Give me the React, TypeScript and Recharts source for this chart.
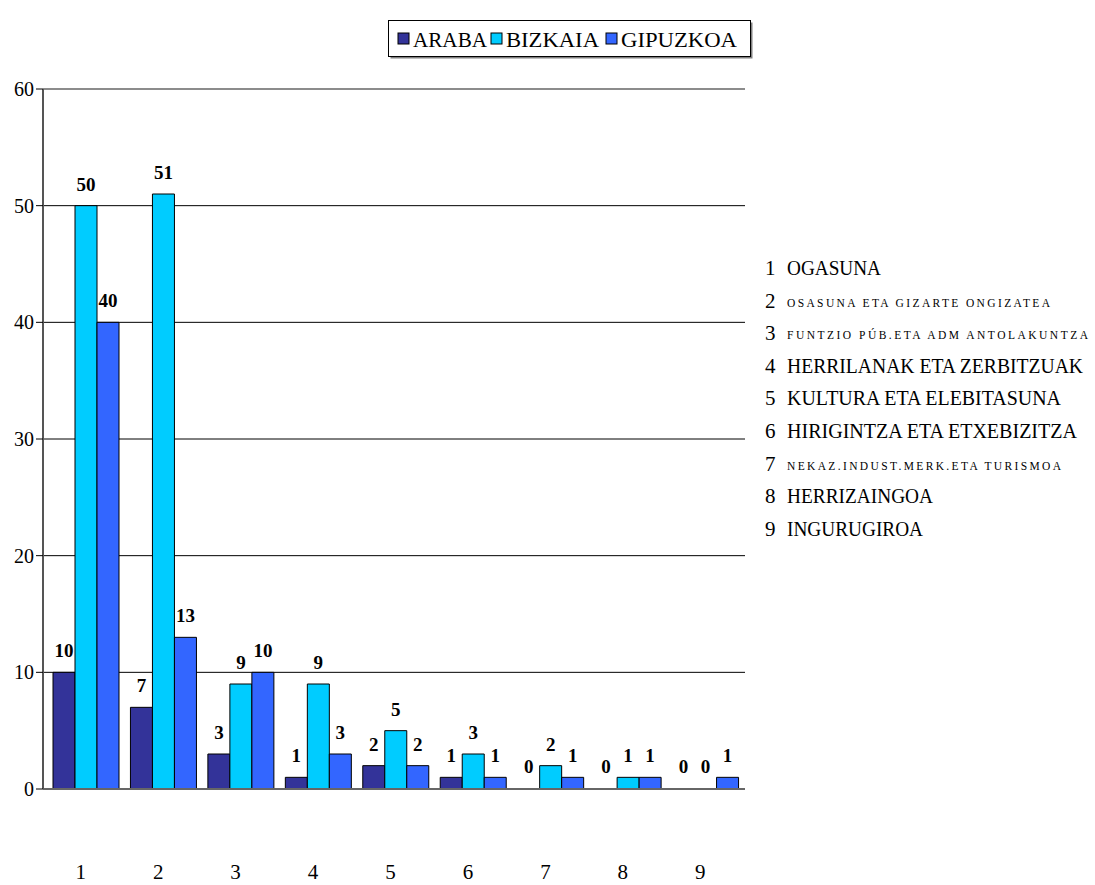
import { BarChart, Bar, XAxis, YAxis, CartesianGrid, Legend, LabelList, ReferenceLine, Rectangle } from 'recharts'

const categories = ['1', '2', '3', '4', '5', '6', '7', '8', '9']
const seriesNames = ['ARABA', 'BIZKAIA', 'GIPUZKOA']
const araba = [10, 7, 3, 1, 2, 1, 0, 0, 0]
const bizkaia = [50, 51, 9, 9, 5, 3, 2, 1, 0]
const gipuzkoa = [40, 13, 10, 3, 2, 1, 1, 1, 1]
const yTicks = [0, 10, 20, 30, 40, 50, 60]
const categoryNames = [
  'OGASUNA',
  'OSASUNA ETA GIZARTE ONGIZATEA',
  'FUNTZIO PÚB.ETA ADM ANTOLAKUNTZA',
  'HERRILANAK ETA ZERBITZUAK',
  'KULTURA ETA ELEBITASUNA',
  'HIRIGINTZA ETA ETXEBIZITZA',
  'NEKAZ.INDUST.MERK.ETA TURISMOA',
  'HERRIZAINGOA',
  'INGURUGIROA',
]

// drawn widths of the side list rows (the original squeezes its text); small rows are tiny and spaced out
const rowWidths = [94, 263, 301, 296, 274, 290, 274, 146, 136]
const smallRows = [1, 2, 6]
const legendX = [10, 103, 218]
const legendWidths = [74, 93, 116]

const colors = ['#333399', '#00CCFF', '#3366FF']
const keys = ['araba', 'bizkaia', 'gipuzkoa']
const FONT = 'Liberation Serif'

const data = categories.map((name, i) => ({
  name,
  araba: araba[i],
  bizkaia: bizkaia[i],
  gipuzkoa: gipuzkoa[i],
}))

function LegendBox() {
  return (
    <svg width={366} height={40} style={{ display: 'block', overflow: 'visible' }}>
      <rect x={2.5} y={2.5} width={362} height={36} fill="#808080" />
      <rect x={0.5} y={0.5} width={362} height={36} fill="#fff" stroke="#000" />
      {seriesNames.map((n, i) => {
        const x = legendX[i]
        return (
          <g key={n}>
            <rect x={x} y={13} width={11} height={11} fill={colors[i]} stroke="#000" />
            <text
              x={x + 15}
              y={27}
              fontFamily={FONT}
              fontSize={21}
              fill="#000"
              textLength={legendWidths[i]}
              lengthAdjust="spacingAndGlyphs"
            >
              {n}
            </text>
          </g>
        )
      })}
    </svg>
  )
}

function CategoryList() {
  return (
    <svg
      width={1095}
      height={885}
      style={{ position: 'absolute', left: 0, top: 0, pointerEvents: 'none' }}
    >
      {categoryNames.map((n, i) => {
        const y = 275 + i * 32.6
        const small = smallRows.includes(i)
        return (
          <g key={n} fill="#000" fontFamily={FONT}>
            <text x={765} y={y} fontSize={21}>
              {i + 1}
            </text>
            {small ? (
              <text x={787} y={y - 1} fontSize={11.5} textLength={rowWidths[i]} lengthAdjust="spacing">
                {n}
              </text>
            ) : (
              <text x={787} y={y} fontSize={20} textLength={rowWidths[i]} lengthAdjust="spacingAndGlyphs">
                {n}
              </text>
            )}
          </g>
        )
      })}
    </svg>
  )
}

// zero values get no rectangle, only their label (as in the original)
function BarShape(props: any) {
  const v = props.payload?.[props.dataKey]
  if (!v) return null
  return <Rectangle {...props} />
}

export default function App() {
  return (
    <div style={{ position: 'absolute', left: 0, top: 0, width: 1095, height: 885, background: '#fff' }}>
      <BarChart
        width={1095}
        height={885}
        data={data}
        margin={{ top: 89, right: 350, left: 0, bottom: 0 }}
        barGap={0}
        barCategoryGap={5}
      >
        <CartesianGrid vertical={false} horizontalValues={[10, 20, 30, 40, 50]} stroke="#000" />
        <ReferenceLine y={60} stroke="#8c8c8c" strokeWidth={2} />
        <XAxis
          dataKey="name"
          interval={0}
          padding={{ left: 5, right: 0 }}
          tickLine={false}
          tickSize={0}
          tickMargin={75}
          height={96}
          axisLine={{ stroke: '#666', strokeWidth: 2 }}
          tick={{ fontSize: 21, fill: '#000', fontFamily: FONT, dx: -6 }}
        />
        <YAxis
          domain={[0, 60]}
          ticks={yTicks}
          interval={0}
          width={43}
          tickSize={7}
          tickMargin={2}
          tickLine={{ stroke: '#000' }}
          axisLine={{ stroke: '#555', strokeWidth: 2 }}
          tick={{ fontSize: 20, fill: '#000', fontFamily: FONT }}
        />
        <YAxis
          yAxisId="right"
          orientation="right"
          width={0}
          tick={false}
          tickLine={false}
          axisLine={{ stroke: '#8c8c8c', strokeWidth: 2 }}
        />
        <Legend
          layout="vertical"
          align="center"
          verticalAlign="middle"
          wrapperStyle={{ top: 20, left: 388, width: 366 }}
          content={() => <LegendBox />}
        />
        {keys.map((k, i) => (
          <Bar
            key={k}
            dataKey={k}
            name={seriesNames[i]}
            fill={colors[i]}
            stroke="#000"
            strokeWidth={1}
            minPointSize={1}
            shape={(p: any) => <BarShape {...p} dataKey={k} />}
            isAnimationActive={false}
          >
            <LabelList
              dataKey={k}
              position="top"
              offset={15}
              fill="#000"
              fontSize={19}
              fontWeight="bold"
              fontFamily={FONT}
            />
          </Bar>
        ))}
      </BarChart>
      <CategoryList />
    </div>
  )
}
